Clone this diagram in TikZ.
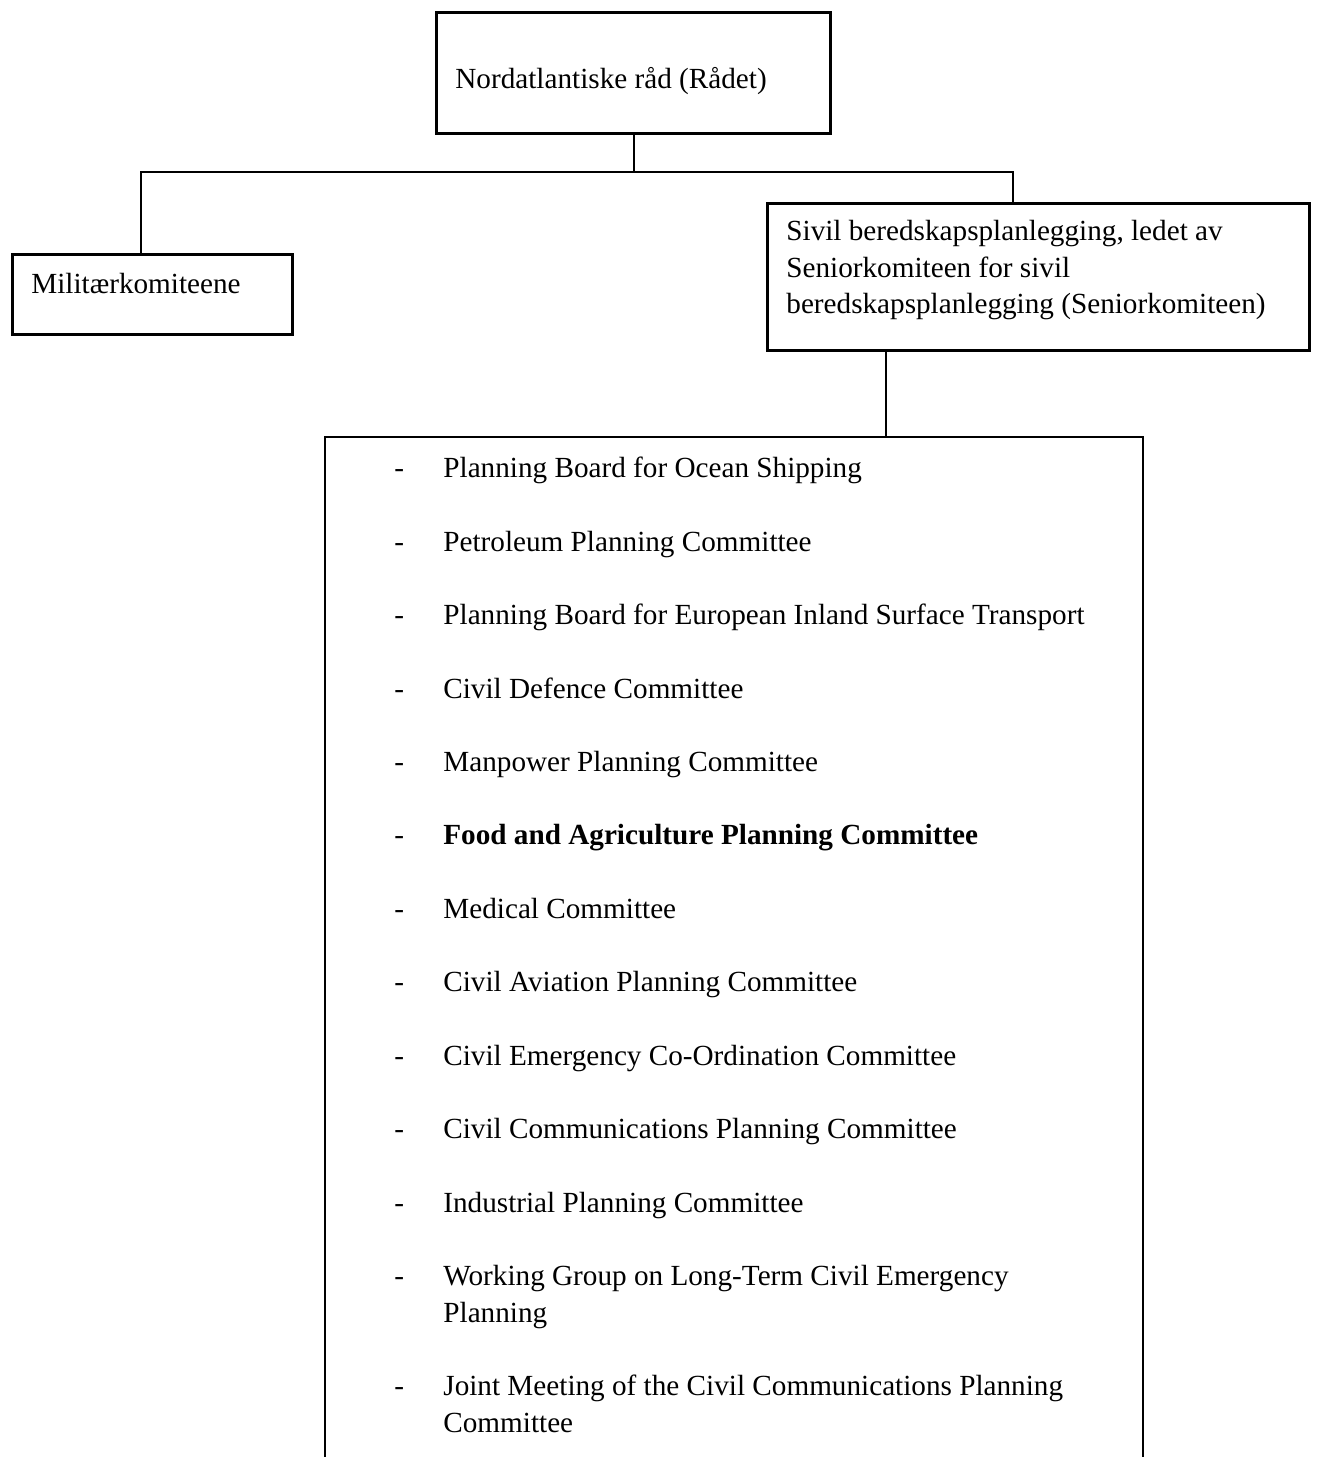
\documentclass[tikz,border=0pt]{standalone}
\usepackage{fontspec}
\setmainfont{Liberation Serif}
\begin{document}
\begin{tikzpicture}[x=0.5pt,y=-0.5pt,
  box/.style={draw, line width=1.25pt, inner sep=0pt, anchor=north west},
  lbl/.style={anchor=base west, inner sep=0pt, font=\fontsize{14.6}{18.5}\selectfont},
  conn/.style={line width=1.25pt}]
\useasboundingbox (0,0) rectangle (1317,1457);
% boxes
\node[box, minimum width=197pt, minimum height=60.5pt] (council) at (435,11) {};
\node[box, minimum width=140pt, minimum height=40pt] (mil) at (11,253) {};
\node[box, minimum width=271pt, minimum height=73.5pt] (sivil) at (766,202) {};
% list frame (open at the bottom)
\coordinate (listtop) at (886,437);
\coordinate (listTL) at (325,437);
\coordinate (listTR) at (1143,437);
\draw[conn] (325,1462) -- (listTL) -- (listTR) -- (1143,1462);
% box texts
\node[lbl] (councilT) at (455,88) {Nordatlantiske råd (Rådet)};
\node[lbl] (milT) at (31,293) {Militærkomiteene};
\node[lbl] (sivilT1) at (786,240) {Sivil beredskapsplanlegging, ledet av};
\node[lbl] (sivilT2) at (786,277) {Seniorkomiteen for sivil};
\node[lbl] (sivilT3) at (786,313) {beredskapsplanlegging (Seniorkomiteen)};
% connectors
\coordinate (bus) at (634,172);
\coordinate (busL) at (141,172);
\coordinate (busR) at (1013,172);
\draw[conn] (council.south -| bus) -- (bus);
\draw[conn] (busL |- mil.north) -- (busL) -- (busR) -- (busR |- sivil.north);
\draw[conn] (sivil.south -| listtop) -- (listtop);
% list items
\foreach \y/\t [count=\i] in {477/Planning Board for Ocean Shipping,
  551/Petroleum Planning Committee,
  624/Planning Board for European Inland Surface Transport,
  698/Civil Defence Committee,
  771/Manpower Planning Committee,
  844/\textbf{Food and Agriculture Planning Committee},
  918/Medical Committee,
  991/Civil Aviation Planning Committee,
  1065/Civil Emergency Co-Ordination Committee,
  1138/Civil Communications Planning Committee,
  1212/Industrial Planning Committee,
  1285/Working Group on Long-Term Civil Emergency,
  1395/Joint Meeting of the Civil Communications Planning}{
  \node[lbl] (dash\i) at (394,\y) {-};
  \node[lbl] (item\i) at (443,\y) {\t};
}
\node[lbl] (item12b) at (443,1322) {Planning};
\node[lbl] (item13b) at (443,1432) {Committee};
\end{tikzpicture}
\end{document}
